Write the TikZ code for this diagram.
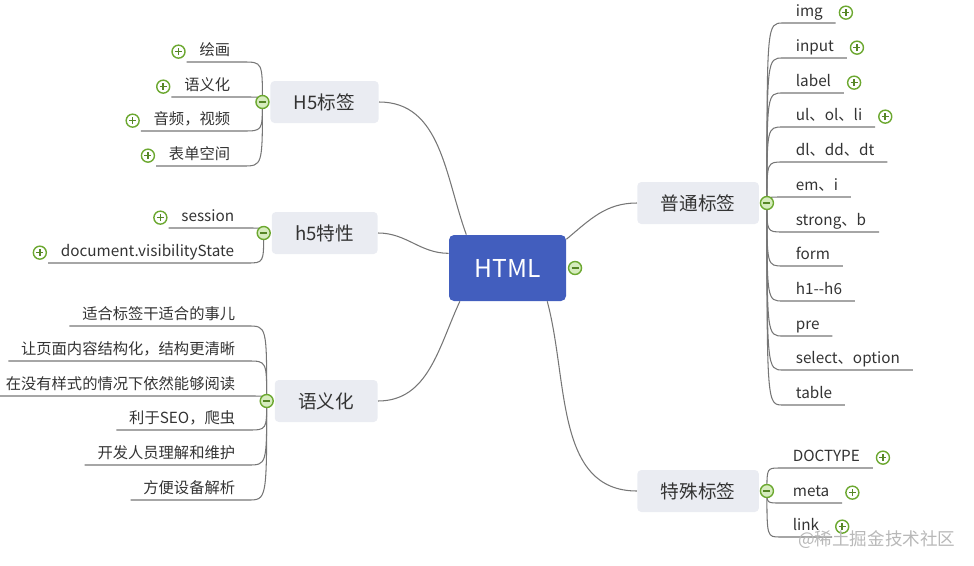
\documentclass[tikz,border=0pt]{standalone}
\usepackage{fontspec}
\setmainfont{Noto Sans CJK SC}
\usetikzlibrary{positioning,backgrounds}
\definecolor{htmlblue}{RGB}{66,94,190}
\definecolor{topicgray}{RGB}{234,236,242}
\definecolor{inkgray}{RGB}{51,51,51}
\definecolor{linegray}{RGB}{118,118,118}
\definecolor{togglegreen}{RGB}{108,168,48}
\definecolor{togglefill}{RGB}{214,236,190}

\begin{document}
\begin{tikzpicture}[x=0.2mm,y=-0.2mm,
  root/.style={rectangle,rounded corners=1mm,fill=htmlblue,text=white,minimum width=23.4mm,minimum height=13.2mm,font=\fontsize{14}{16}\selectfont},
  topic/.style={rectangle,rounded corners=0.8mm,fill=topicgray,text=inkgray,inner xsep=4.7mm,minimum height=8.4mm,font=\fontsize{10.6}{12}\selectfont},
  leaf/.style={inner xsep=2.5mm,inner ysep=0.4mm,text height=2.4mm,text depth=0.8mm,text=inkgray,font=\fontsize{8.7}{10}\selectfont},
  tog/.style={circle,draw=togglegreen,line width=0.8pt,minimum size=2.6mm,inner sep=0pt},
  minus/.style={tog,fill=togglefill,path picture={\draw[togglegreen!80!black,line width=0.9pt]
    ([xshift=-0.7mm]path picture bounding box.center)--([xshift=0.7mm]path picture bounding box.center);}},
  plus/.style={tog,fill=white,path picture={\draw[togglegreen!80!black,line width=0.9pt]
    ([xshift=-0.7mm]path picture bounding box.center)--([xshift=0.7mm]path picture bounding box.center)
    ([yshift=-0.7mm]path picture bounding box.center)--([yshift=0.7mm]path picture bounding box.center);}},
  e/.style={draw=linegray,line width=0.6pt}]
  \useasboundingbox (0,0) rectangle (974,565);
  % root and main topics
  \node[root] (html) at (507.5,268) {HTML};
  \node[topic,anchor=east] (h5)  at (379,102) {H5标签};
  \node[topic,anchor=east] (h5t) at (378,233) {h5特性};
  \node[topic,anchor=east] (yyh) at (378,401) {语义化};
  \node[topic,anchor=west] (pt)  at (637,203) {普通标签};
  \node[topic,anchor=west] (ts)  at (637,491) {特殊标签};
  \node[minus,right=0.3mm of html] (html-m) {};
  \node[minus,left=0.1mm of h5]   (h5-m) {};
  \node[minus,left=0.1mm of h5t]  (h5t-m) {};
  \node[minus,left=0.1mm of yyh]  (yyh-m) {};
  \node[minus,right=0.1mm of pt]  (pt-m) {};
  \node[minus,right=0.1mm of ts]  (ts-m) {};
  % leaves on the left
  \foreach \n/\t/\y in {huihua/绘画/62,yuyi/语义化/97,yinpin/音频，视频/131,biaodan/表单空间/166}
    \node[leaf,anchor=south east] (\n) at (243,\y) {\t};
  \foreach \n/\t/\y in {session/session/228,visib/document.visibilityState/263}
    \node[leaf,anchor=south east] (\n) at (247,\y) {\t};
  \foreach \n/\t/\y in {yy1/适合标签干适合的事儿/326,yy2/让页面内容结构化，结构更清晰/361,
      yy3/在没有样式的情况下依然能够阅读/396,yy4/利于SEO，爬虫/430,yy5/开发人员理解和维护/465,yy6/方便设备解析/500}
    \node[leaf,anchor=south east] (\n) at (248,\y) {\t};
  \foreach \n in {huihua,yuyi,yinpin,biaodan,session,visib}
    \node[plus,left=0.2mm of \n] (\n-p) {};
  % leaves on the right
  \foreach \n/\t/\y in {img/img/23,input/input/58,label/label/93,ulol/ul、ol、li/127,dldd/dl、dd、dt/162,
      emi/em、i/197,strong/strong、b/232,form/form/266,hx/h1-\kern0pt-h6/301,pre/pre/336,select/select、option/370,table/table/405}
    \node[leaf,anchor=south west] (\n) at (783,\y) {\t};
  \foreach \n/\t/\y in {doctype/DOCTYPE/468,meta/meta/503,link/link/537}
    \node[leaf,anchor=south west] (\n) at (780,\y) {\t};
  \foreach \n in {img,input,label,ulol,doctype,meta,link}
    \node[plus,right=0.6mm of \n] (\n-p) {};
  \node[font=\fontsize{10}{12}\selectfont,text=black!28,anchor=west] (mark) at (792,540) {@稀土掘金技术社区};
  % connectors behind the nodes
  \begin{pgfonlayer}{background}
    \draw[e] (html.141) to[out=110,in=0] (h5.east);
    \draw[e] (html.166) to[out=180,in=0] (h5t.east);
    \draw[e] (html.215) to[out=245,in=0] (yyh.east);
    \draw[e] (html.26) to[out=40,in=180] (pt.west);
    \draw[e] (html.320) to[out=285,in=180] (ts.west);
    \foreach \m/\list in {h5/{huihua,yuyi,yinpin,biaodan},h5t/{session,visib},yyh/{yy1,yy2,yy3,yy4,yy5,yy6}}
      \foreach \n in \list
        \draw[e] (\n.south west) -- (\n.south east)
          .. controls (\m-m |- \n.south east) and (\m-m |- \n.south east) .. (\m-m.center);
    \foreach \m/\list in {pt/{img,input,label,ulol,dldd,emi,strong,form,hx,pre,select,table},ts/{doctype,meta,link}}
      \foreach \n in \list
        \draw[e] (\n.south east) -- (\n.south west)
          .. controls (\m-m |- \n.south west) and (\m-m |- \n.south west) .. (\m-m.center);
  \end{pgfonlayer}
\end{tikzpicture}
\end{document}
